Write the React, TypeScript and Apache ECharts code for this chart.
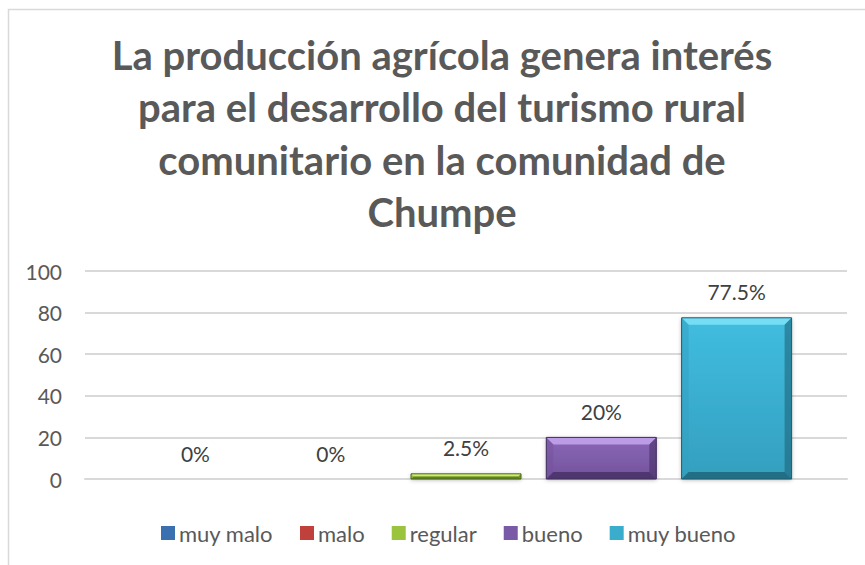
import React, { useEffect, useRef } from "react";
import * as echarts from "echarts";

const titleLines = [
  "La producción agrícola genera interés",
  "para el desarrollo del turismo rural",
  "comunitario en la comunidad de",
  "Chumpe",
];
const category = [""];
const seriesNames = ["muy malo", "malo", "regular", "bueno", "muy bueno"];
const seriesValues = [0, 0, 2.5, 20, 77.5];
// [bevel light, fill top, fill bottom, bevel dark, legend color]
const seriesColors = [
  ["#8fb8ea", "#5b8fd0", "#3d6fae", "#23446f", "#3a6fb0"],
  ["#ee8a86", "#d2524e", "#b03834", "#6e1f1c", "#c0403c"],
  ["#d4f27a", "#a8d84a", "#92bf36", "#4f6a1c", "#9bc43e"],
  ["#c7a6f0", "#8a68b8", "#73529c", "#412c5e", "#7a5aa6"],
  ["#7fe4f8", "#40bde0", "#349fbf", "#1b5e72", "#3aaccc"],
];
const yTicks = { min: 0, max: 100, interval: 20 };

const BAR_W = 110;
const BAR_STEP = 135.3;

export default function App() {
  const ref = useRef<HTMLDivElement>(null);
  useEffect(() => {
    const chart = echarts.init(ref.current!, undefined, { renderer: "svg" });
    const font = "Lato, 'Open Sans', sans-serif";
    const n = seriesNames.length;
    chart.setOption({
      animation: false,
      backgroundColor: "#ffffff",
      graphic: [
        {
          type: "rect",
          shape: { x: 8.5, y: 9.5, width: 900, height: 600 },
          style: { fill: "none", stroke: "#d9d9d9", lineWidth: 1.5 },
          silent: true,
        },
        {
          type: "text",
          x: 442,
          y: 29,
          style: {
            text: titleLines.join("\n"),
            font: `bold 40px ${font}`,
            fill: "#595959",
            textAlign: "center",
            lineHeight: 52.3,
          },
        },
      ],
      legend: {
        data: seriesNames,
        left: 156,
        top: 517,
        icon: "rect",
        itemWidth: 14,
        itemHeight: 14,
        itemGap: 27,
        textStyle: { fontFamily: font, fontSize: 22, color: "#595959", padding: [0, 0, 0, -1] },
      },
      grid: { left: 85, right: 18, top: 271, bottom: 86 },
      xAxis: {
        type: "category",
        data: category,
        axisLine: { show: true, lineStyle: { color: "#d9d9d9", width: 2 } },
        axisTick: { show: false },
        axisLabel: { show: false },
      },
      yAxis: {
        type: "value",
        min: yTicks.min,
        max: yTicks.max,
        interval: yTicks.interval,
        axisLine: { show: false },
        axisTick: { show: false },
        axisLabel: { fontFamily: font, fontSize: 21, color: "#595959", margin: 23 },
        splitLine: { lineStyle: { color: "#d9d9d9", width: 2 } },
      },
      series: seriesNames.map((name, i) => {
        const c = seriesColors[i];
        return {
          name,
          type: "custom",
          data: [[0, seriesValues[i]]],
          itemStyle: { color: c[4] },
          renderItem: (params: any, api: any) => {
            const v = api.value(1);
            const base = api.coord([api.value(0), 0]);
            const top = api.coord([api.value(0), v]);
            const cx = base[0] + (i - (n - 1) / 2) * BAR_STEP;
            const x0 = cx - BAR_W / 2;
            const x1 = cx + BAR_W / 2;
            const y0 = top[1];
            const y1 = base[1];
            const h = y1 - y0;
            const children: any[] = [];
            if (h > 0.5) {
              const b = Math.min(7, h / 2);
              children.push({
                type: "rect",
                shape: { x: x0, y: y0, width: BAR_W, height: h },
                style: {
                  fill: new echarts.graphic.LinearGradient(0, 0, 0, 1, [
                    { offset: 0, color: c[1] },
                    { offset: 1, color: c[2] },
                  ]),
                  shadowColor: "rgba(0,0,0,0.3)",
                  shadowBlur: 4,
                  shadowOffsetY: 1,
                },
              });
              children.push({
                type: "polygon",
                shape: { points: [[x0, y0], [x1, y0], [x1 - b, y0 + b], [x0 + b, y0 + b]] },
                style: { fill: c[0], opacity: 0.85 },
              });
              children.push({
                type: "polygon",
                shape: { points: [[x0, y0], [x0 + b, y0 + b], [x0 + b, y1 - b], [x0, y1]] },
                style: { fill: c[2], opacity: 0.5 },
              });
              children.push({
                type: "polygon",
                shape: { points: [[x1, y0], [x1, y1], [x1 - b, y1 - b], [x1 - b, y0 + b]] },
                style: { fill: c[3], opacity: 0.55 },
              });
              children.push({
                type: "polygon",
                shape: { points: [[x0, y1], [x1, y1], [x1 - b, y1 - b], [x0 + b, y1 - b]] },
                style: { fill: c[3], opacity: 0.75 },
              });
              children.push({
                type: "rect",
                shape: { x: x0, y: y0, width: BAR_W, height: h },
                style: { fill: "none", stroke: c[3], lineWidth: 1 },
              });
            }
            children.push({
              type: "text",
              x: cx,
              y: y0 - 26,
              style: {
                text: `${v}%`,
                font: `21px ${font}`,
                fill: "#404040",
                textAlign: "center",
                textVerticalAlign: "middle",
              },
            });
            return { type: "group", children };
          },
        };
      }),
    });
    return () => chart.dispose();
  }, []);
  return (
    <div style={{ position: "fixed", left: 0, top: 0, width: 865, height: 565, overflow: "hidden" }}>
      <div ref={ref} style={{ width: 865, height: 565 }} />
    </div>
  );
}
